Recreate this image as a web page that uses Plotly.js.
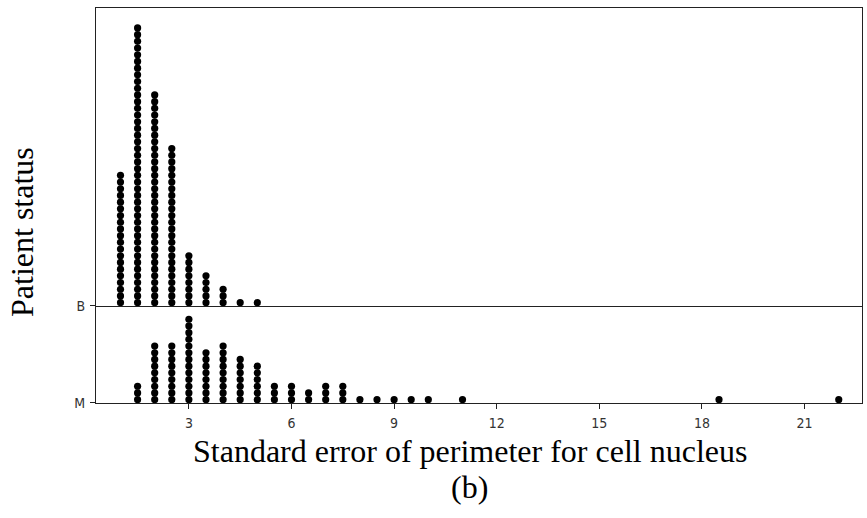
<!DOCTYPE html>
<html>
<head>
<meta charset="utf-8">
<script src="https://cdn.plot.ly/plotly-3.0.1.min.js"></script>
<style>html,body{margin:0;padding:0;background:#fff;}#chart{width:867px;height:518px;}</style>
</head>
<body>
<div id="chart"></div>
<script>
// ---- data (number of stacked dots per bin) ----
const binsB   = [1.0, 1.5, 2.0, 2.5, 3.0, 3.5, 4.0, 4.5, 5.0];
const countsB = [20, 42, 32, 24, 8, 5, 3, 1, 1];

const binsM   = [1.5, 2.0, 2.5, 3.0, 3.5, 4.0, 4.5, 5.0, 5.5, 6.0, 6.5, 7.0, 7.5, 8.0, 8.5, 9.0, 9.5, 10.0, 11.0, 18.5, 22.0];
const countsM = [3, 9, 9, 13, 8, 9, 7, 6, 3, 3, 2, 3, 3, 1, 1, 1, 1, 1, 1, 1, 1];

const xTicks  = [3, 6, 9, 12, 15, 18, 21];
const groupLabels = ['B', 'M'];

// expand bin counts into stacked dot positions
function stack(bins, counts) {
  const xs = [], ys = [];
  bins.forEach((b, i) => {
    for (let k = 0; k < counts[i]; k++) { xs.push(b); ys.push(k + 0.5); }
  });
  return {xs, ys};
}
const sB = stack(binsB, countsB);
const sM = stack(binsM, countsM);

const dotStyle = {color: '#000', size: 7.2, line: {width: 0}};

const traces = [
  {type: 'scatter', mode: 'markers', x: sB.xs, y: sB.ys, xaxis: 'x2', yaxis: 'y2',
   marker: dotStyle, hoverinfo: 'x', showlegend: false, name: 'B'},
  {type: 'scatter', mode: 'markers', x: sM.xs, y: sM.ys, xaxis: 'x', yaxis: 'y',
   marker: dotStyle, hoverinfo: 'x', showlegend: false, name: 'M'}
];

const lineCol = '#222';
const tickFont = {family: 'DejaVu Sans Condensed, Liberation Sans Narrow, Arial, sans-serif', size: 14, color: '#333'};
const serif = {family: 'Liberation Serif, Times New Roman, serif', size: 32, color: '#000'};

const domSplit = 0.2456;
const layout = {
  width: 867, height: 518,
  margin: {l: 96, r: 5, t: 8, b: 115},
  paper_bgcolor: '#fff', plot_bgcolor: '#fff',
  showlegend: false,
  xaxis: {
    anchor: 'y', range: [0.284, 22.68], tickvals: xTicks, ticktext: xTicks.map(String),
    ticks: 'outside', ticklen: 5, tickcolor: lineCol, tickwidth: 1, ticklabelstandoff: 2,
    showline: true, linecolor: lineCol, linewidth: 1, mirror: false,
    showgrid: false, zeroline: false, tickfont: tickFont
  },
  xaxis2: {
    anchor: 'y2', matches: 'x', range: [0.284, 22.68],
    showticklabels: false, ticks: '',
    showline: true, linecolor: lineCol, linewidth: 1, mirror: true,
    showgrid: false, zeroline: false
  },
  yaxis: {
    domain: [0, domSplit], range: [0, 14.48],
    tickvals: [0], ticktext: [groupLabels[1]],
    ticks: 'outside', ticklen: 5, tickcolor: lineCol, ticklabelstandoff: 2,
    showline: true, linecolor: lineCol, linewidth: 1, mirror: true,
    showgrid: false, zeroline: false, tickfont: tickFont
  },
  yaxis2: {
    domain: [domSplit, 1], range: [0, 44.48],
    tickvals: [0], ticktext: [groupLabels[0]],
    ticks: 'outside', ticklen: 5, tickcolor: lineCol, ticklabelstandoff: 2,
    showline: true, linecolor: lineCol, linewidth: 1, mirror: true,
    showgrid: false, zeroline: false, tickfont: tickFont
  },
  annotations: [
    {text: 'Standard error of perimeter for cell nucleus', xref: 'paper', yref: 'paper',
     x: 0.488, y: 0, xanchor: 'center', yanchor: 'middle', yshift: -48, showarrow: false, font: serif},
    {text: '(b)', xref: 'paper', yref: 'paper',
     x: 0.488, y: 0, xanchor: 'center', yanchor: 'middle', yshift: -84, showarrow: false, font: serif},
    {text: 'Patient status', xref: 'paper', yref: 'paper', textangle: -90,
     x: 0, y: 0.433, xanchor: 'center', yanchor: 'middle', xshift: -74, showarrow: false, font: serif}
  ]
};

Plotly.newPlot('chart', traces, layout, {staticPlot: true, displayModeBar: false});
</script>
</body>
</html>
